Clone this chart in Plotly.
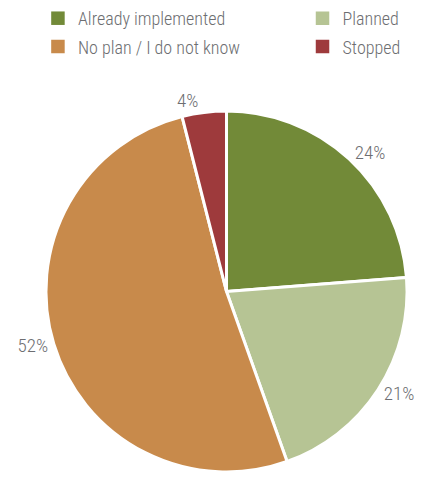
import plotly.graph_objects as go

categories = ["Already implemented", "Planned", "No plan / I do not know", "Stopped"]
shares = [24, 21, 52, 4]
colors = ["#728a38", "#b6c494", "#c88a4b", "#9e3a3c"]

FONT = "Roboto Condensed, Roboto, sans-serif"
GREY = "#6d6e71"

fig = go.Figure()

fig.add_trace(
    go.Pie(
        labels=categories,
        values=shares,
        sort=False,
        direction="clockwise",
        rotation=0,
        marker=dict(colors=colors, line=dict(color="white", width=3)),
        texttemplate="%{value}%",
        textposition="outside",
        textfont=dict(family=FONT, size=19, color=GREY, weight=300),
        domain=dict(x=[0, 1], y=[0, 0.765]),
        hoverinfo="label+percent",
        showlegend=False,
    )
)

# One legend box per category, laid out as a 2 x 2 key above the pie
legend_slots = [
    dict(x=-0.011, y=1.0),
    dict(x=0.706, y=1.0),
    dict(x=-0.011, y=0.94),
    dict(x=0.706, y=0.94),
]
legend_names = ["legend", "legend2", "legend3", "legend4"]

for name, color, leg in zip(categories, colors, legend_names):
    fig.add_trace(
        go.Scatter(
            x=[None],
            y=[None],
            mode="markers",
            name=name,
            marker=dict(symbol="square", size=13.5, color=color),
            legend=leg,
            showlegend=True,
        )
    )

legend_common = dict(
    orientation="v",
    xanchor="left",
    yanchor="top",
    bgcolor="rgba(0,0,0,0)",
    font=dict(family=FONT, size=18, color=GREY, weight=300),
    itemsizing="trace",
)

layout_legends = {}
for leg, slot in zip(legend_names, legend_slots):
    layout_legends[leg] = dict(legend_common, x=slot["x"], y=slot["y"])

fig.update_layout(
    width=432,
    height=477,
    margin=dict(l=0, r=0, t=0, b=0),
    paper_bgcolor="white",
    plot_bgcolor="white",
    font=dict(family=FONT, color=GREY, size=18),
    xaxis=dict(visible=False),
    yaxis=dict(visible=False),
    **layout_legends,
)

fig.write_html("out.html")
